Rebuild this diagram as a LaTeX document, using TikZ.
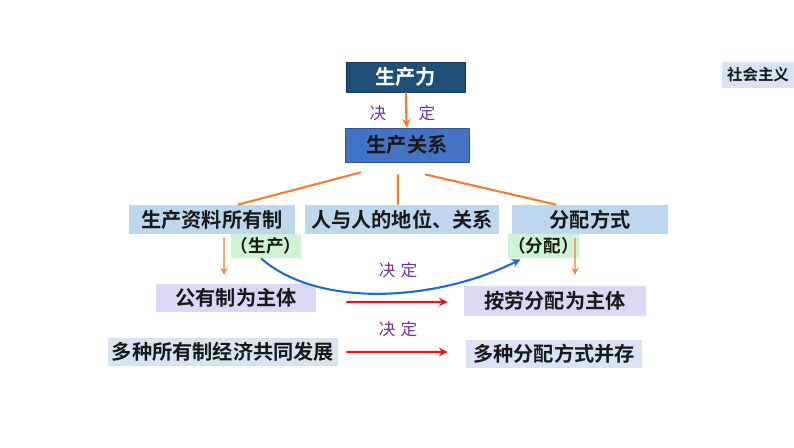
\documentclass[tikz,border=0pt]{standalone}
\usepackage{fontspec}
\setmainfont{Noto Sans CJK SC}[BoldFont={Noto Sans CJK SC Bold}]
\definecolor{navy}{HTML}{1F4E79}
\definecolor{midblue}{HTML}{4472C4}
\definecolor{paleblue}{HTML}{BDD7EE}
\definecolor{greyblue}{HTML}{DAE3F3}
\definecolor{palegreen}{HTML}{CDF3D4}
\definecolor{lavender}{HTML}{DDD7F6}
\definecolor{linkorange}{HTML}{ED7D31}
\definecolor{curveblue}{HTML}{1F6BC6}
\definecolor{arrowred}{HTML}{E8141A}
\definecolor{wordpurple}{HTML}{7030A0}
\begin{document}
\begin{tikzpicture}[x=.02cm, y=-.02cm, font=\bfseries\fontsize{11.5}{13}\selectfont, line join=round, >=stealth,
	box/.style={inner sep=0pt, minimum height=.58cm, text=black!90},
	tag/.style={box, fill=palegreen, minimum height=.48cm, font=\bfseries\fontsize{10}{12}\selectfont},
	word/.style={text=wordpurple, font=\fontsize{9.5}{11}\selectfont},
	link/.style={linkorange, line width=1.2pt}]
	\useasboundingbox (0,0) rectangle (794,447);
	\node[box, fill=navy, draw=navy!70!black, text=white, minimum width=2.38cm, minimum height=.6cm] (prod) at (405.5,77) {生产力};
	\node[box, fill=midblue, draw=midblue!75!black, minimum width=2.48cm, minimum height=.68cm] (rel) at (407,145) {生产关系};
	\node[box, fill=greyblue, minimum width=1.44cm, minimum height=.52cm, font=\bfseries\fontsize{8.8}{10}\selectfont] (soc) at (758,75) {社会主义};
	\node[box, fill=paleblue, minimum width=3.32cm] (own) at (212,219.5) {生产资料所有制};
	\node[box, fill=paleblue, minimum width=3.88cm] (pos) at (402,219.5) {人与人的地位、关系};
	\node[box, fill=paleblue, minimum width=3.12cm] (dist) at (590,219.5) {分配方式};
	\node[tag, minimum width=1.36cm] (tagP) at (266,246) {（生产）};
	\node[tag, minimum width=1.26cm] (tagD) at (543.5,246) {（分配）};
	\node[box, fill=lavender, minimum width=3.2cm, minimum height=.56cm] (pub) at (236,298) {公有制为主体};
	\node[box, fill=lavender, minimum width=3.66cm, minimum height=.6cm] (lab) at (555,301) {按劳分配为主体};
	\node[box, fill=greyblue, minimum width=4.6cm, minimum height=.56cm] (multi) at (223,352) {多种所有制经济共同发展};
	\node[box, fill=greyblue, minimum width=3.54cm, minimum height=.56cm] (mdist) at (554,354) {多种分配方式并存};
	\draw[link, ->] (prod) -- (rel);
	\node[word] (w1) at (378,113) {决};
	\node[word] (w2) at (427,113) {定};
	\draw[link] ([xshift=-.92cm, yshift=-.2cm]rel.south) -- ([xshift=.52cm]own.north)
		([xshift=-.18cm, yshift=-.24cm]rel.south) -- ([xshift=-.08cm]pos.north)
		([xshift=.36cm, yshift=-.24cm]rel.south) -- ([xshift=-.68cm]dist.north);
	\draw[link, line width=.8pt, ->] ([xshift=.24cm, yshift=-.06cm]own.south) -- ([xshift=-.24cm, yshift=.18cm]pub.north);
	\draw[link, line width=.8pt, ->] ([xshift=-.3cm, yshift=-.08cm]dist.south) -- ([xshift=.4cm, yshift=.22cm]lab.north);
	\draw[curveblue, line width=1.2pt, ->] ([xshift=-.1cm]tagP.south) .. controls (320,310) and (440,300) .. ([xshift=-.46cm, yshift=-.02cm]tagD.south);
	\node[word] (w3) at (398,270) {决\hspace{.3em}定};
	\draw[arrowred, line width=1.2pt, ->] ([xshift=.6cm, yshift=-.08cm]pub.east) -- ([xshift=-.31cm, yshift=-.02cm]lab.west);
	\node[word] (w4) at (398,329) {决\hspace{.3em}定};
	\draw[arrowred, line width=1.2pt, ->] ([xshift=.16cm]multi.east) -- ([xshift=-.35cm, yshift=.04cm]mdist.west);
\end{tikzpicture}
\end{document}
